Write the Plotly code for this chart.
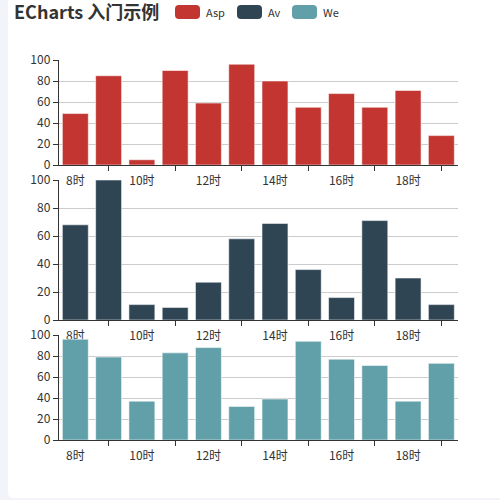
import plotly.graph_objects as go

hours = ["8时", "9时", "10时", "11时", "12时", "13时", "14时", "15时", "16时", "17时", "18时", "19时"]
asp = [49, 85, 5, 90, 59, 96, 80, 55, 68, 55, 71, 28]
av = [68, 100, 11, 9, 27, 58, 69, 36, 16, 71, 30, 11]
we = [96, 79, 37, 83, 88, 32, 39, 94, 77, 71, 37, 73]

names = ["Asp", "Av", "We"]
colors = ["#c23531", "#2f4554", "#61a0a8"]
series = [asp, av, we]

W, H = 500, 500
FONT = "Noto Sans CJK SC, Noto Sans, sans-serif"

# pixel bands of the three grids (top, bottom)
bands = [(60, 165), (180, 320), (335, 440)]
x_left, x_right = 58.7, 458


def px(x):
    return x / W


def py(y):
    return 1 - y / H


def round_rect(x0, y0, x1, y1, r):
    # path in paper units, built from pixel values
    p = [
        f"M {px(x0 + r)} {py(y0)}",
        f"L {px(x1 - r)} {py(y0)}",
        f"Q {px(x1)} {py(y0)} {px(x1)} {py(y0 + r)}",
        f"L {px(x1)} {py(y1 - r)}",
        f"Q {px(x1)} {py(y1)} {px(x1 - r)} {py(y1)}",
        f"L {px(x0 + r)} {py(y1)}",
        f"Q {px(x0)} {py(y1)} {px(x0)} {py(y1 - r)}",
        f"L {px(x0)} {py(y0 + r)}",
        f"Q {px(x0)} {py(y0)} {px(x0 + r)} {py(y0)}",
        "Z",
    ]
    return " ".join(p)


idx = list(range(len(hours)))
fig = go.Figure()

for i, (name, vals, col) in enumerate(zip(names, series, colors)):
    n = "" if i == 0 else str(i + 1)
    fig.add_trace(go.Bar(
        x=idx, y=vals, name=name,
        marker=dict(color=col, line=dict(color="rgba(255,255,255,0.55)", width=1)),
        xaxis="x" + n, yaxis="y" + n, showlegend=False,
    ))
    top, bot = bands[i]
    fig.layout["xaxis" + n] = dict(
        domain=[px(x_left), px(x_right)], anchor="y" + n,
        range=[-0.5, len(hours) - 0.5],
        tickvals=idx[::2], ticktext=hours[::2],
        ticks="outside", ticklen=5, tickcolor="rgba(0,0,0,0)",
        minor=dict(tickvals=idx[1::2], ticks="outside", ticklen=5,
                   tickcolor="#333", showgrid=False),
        showline=True, linecolor="#333", linewidth=1,
        showgrid=False, zeroline=False, automargin=False,
        tickfont=dict(size=12, color="#333", family=FONT),
    )
    fig.layout["yaxis" + n] = dict(
        domain=[py(bot), py(top)], anchor="x" + n,
        range=[0, 100], dtick=20,
        ticks="outside", ticklen=5, tickcolor="#333",
        showline=True, linecolor="#333", linewidth=1,
        showgrid=True, gridcolor="#ccc", zeroline=False, automargin=False,
        tickfont=dict(size=12, color="#333", family=FONT),
    )

shapes = [dict(type="path", xref="paper", yref="paper",
               path=round_rect(8, -10, 510, 498, 6),
               fillcolor="white", line=dict(width=0), layer="below")]
annotations = []
legend_x = [175, 237, 292]
for name, col, lx in zip(names, colors, legend_x):
    shapes.append(dict(type="path", xref="paper", yref="paper",
                       path=round_rect(lx, 5, lx + 25, 19, 4),
                       fillcolor=col, line=dict(width=0)))
    annotations.append(dict(x=px(lx + 29), y=py(12), xref="paper", yref="paper",
                            xanchor="left", yanchor="middle", text=name,
                            showarrow=False,
                            font=dict(size=11, color="#333", family=FONT)))

fig.update_layout(
    width=W, height=H,
    margin=dict(l=0, r=0, t=0, b=0, pad=0, autoexpand=False),
    paper_bgcolor="#f3f4f9", plot_bgcolor="rgba(0,0,0,0)",
    title=dict(text="<b>ECharts 入门示例</b>", x=px(14), xanchor="left",
               y=py(13), yanchor="middle", automargin=False,
               font=dict(size=18, color="#333", family=FONT)),
    bargap=0.22,
    shapes=shapes, annotations=annotations,
    showlegend=False,
)

# page body margin would push the 500x500 figure off the window
fig.write_html("out.html", config={"displayModeBar": False},
               post_script="document.body.style.margin='0';document.body.style.overflow='hidden';")
